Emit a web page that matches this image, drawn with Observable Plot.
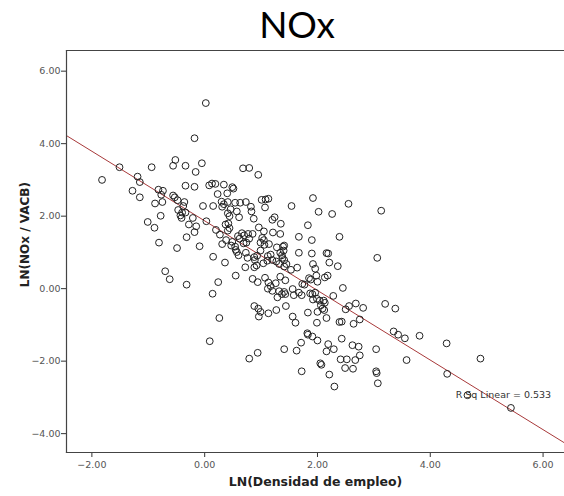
<!DOCTYPE html>
<html><head><meta charset="utf-8">
<script src="https://cdn.jsdelivr.net/npm/d3@7"></script>
<script src="https://cdn.jsdelivr.net/npm/@observablehq/plot@0.6"></script>
<style>
body{margin:0;background:#fff;}
#wrap{position:relative;width:564px;height:496px;overflow:hidden;}
#title{position:absolute;top:0px;left:197px;width:200px;text-align:center;font-family:Lato,"Open Sans",sans-serif;font-size:37px;line-height:48px;color:#000;}
#wrap svg{position:absolute;left:0;top:0;}
</style></head><body>
<div id="wrap"><div id="title"></div></div>
<script>
const chartTitle = "NOx";
const xLabel = "LN(Densidad de empleo)";
const yLabel = "LN(NOx / VACB)";
const xTicks = [-2, 0, 2, 4, 6];
const yTicks = [-4, -2, 0, 2, 4, 6];
const xDomain = [-2.45, 6.38];
const yDomain = [-4.52, 6.57];
const fitIntercept = 1.87;
const fitSlope = -0.96;
const rsqLabel = "R Sq Linear = 0.533";
const rsqAt = {x: 4.45, y: -2.92};
const yLabelAt = 1.49;

const xVals = [
  0.02,-0.18,-0.94,-0.52,-0.56,-0.34,-0.05,-0.16,0.68,0.79,
  0.95,-0.34,-0.18,0.08,0.13,0.19,0.34,0.49,0.51,0.23,
  0.40,-0.82,-0.74,-0.77,-0.56,-0.53,-0.88,-0.75,-0.48,-0.36,
  -0.38,-0.47,-0.40,-0.43,-0.41,-0.34,-0.21,-0.03,0.15,0.30,
  0.34,0.31,0.41,0.54,0.63,0.73,0.46,0.41,0.44,0.57,
  0.61,-0.78,-1.01,-0.89,-0.28,-0.15,-0.18,0.03,0.20,0.27,
  0.37,0.42,0.44,0.41,0.59,0.62,0.38,0.49,0.47,0.54,
  -0.81,-0.32,-0.49,-0.09,0.31,0.79,0.82,0.83,0.87,1.01,
  1.08,1.13,1.07,1.54,1.92,2.02,2.26,2.55,3.13,1.24,
  1.20,1.35,1.21,1.34,0.96,1.05,1.02,0.99,1.06,1.14,
  1.83,1.67,1.90,2.39,0.70,0.85,1.28,1.39,1.41,-1.82,
  -1.51,-1.19,-1.15,-1.28,-1.15,0.66,0.77,1.05,1.40,0.69,
  0.73,1.67,1.90,2.16,2.19,0.76,0.89,0.88,1.92,1.96,
  1.98,2.00,2.21,2.36,1.53,1.64,1.41,0.85,1.07,1.34,
  1.43,1.85,1.88,2.13,2.18,0.72,0.55,0.57,0.60,0.74,
  0.99,1.34,1.37,0.88,0.93,0.92,1.04,1.11,1.17,1.12,
  1.20,1.27,1.32,1.38,1.41,1.45,0.94,1.13,1.17,1.26,
  1.12,1.20,1.32,1.37,1.29,1.41,1.43,1.56,1.58,1.67,
  1.44,1.27,0.88,0.95,0.99,0.96,1.13,1.56,1.61,1.73,
  1.77,1.72,1.87,1.91,1.96,1.92,1.99,2.04,2.11,2.13,
  2.06,2.09,2.28,2.45,1.83,2.00,2.12,2.16,1.99,2.50,
  2.56,2.68,2.81,3.20,3.38,2.75,2.64,2.39,2.43,1.82,
  1.83,1.91,2.00,2.43,1.71,1.63,2.19,2.29,2.16,2.62,
  2.73,3.04,2.75,2.41,2.52,2.67,2.05,2.07,2.49,2.63,
  1.72,2.21,3.04,3.05,3.07,2.30,3.35,3.43,3.55,3.58,
  3.81,4.29,4.30,4.89,4.66,5.43,3.06,1.41,0.94,0.79,
  0.15,0.36,0.55,-0.70,-0.62,-0.32,0.24,0.14,0.26,0.09
];
const yVals = [
  5.12,4.15,3.35,3.55,3.39,3.39,3.46,3.22,3.32,3.33,
  3.14,2.84,2.81,2.85,2.90,2.89,2.87,2.80,2.76,2.61,
  2.63,2.73,2.70,2.59,2.57,2.52,2.35,2.39,2.44,2.39,
  2.28,2.17,2.10,2.02,1.95,2.10,1.95,2.28,2.28,2.40,
  2.33,2.26,2.39,2.37,2.37,2.39,2.19,2.08,2.00,2.13,
  1.97,2.01,1.84,1.68,1.77,1.72,1.56,1.86,1.62,1.49,
  1.77,1.80,1.67,1.60,1.45,1.38,1.34,1.29,1.19,1.16,
  1.27,1.42,1.12,1.17,1.23,1.38,2.26,2.13,1.93,2.45,
  2.46,2.48,2.24,2.28,2.50,2.12,2.06,2.34,2.15,1.97,
  1.90,1.79,1.55,1.51,1.69,1.58,1.40,1.27,1.21,1.23,
  1.75,1.43,1.34,1.43,1.47,1.51,1.14,1.16,1.19,3.00,
  3.35,3.09,2.94,2.70,2.52,1.53,1.51,1.34,1.05,1.25,
  0.99,0.99,0.97,0.98,0.97,0.85,0.79,0.59,0.68,0.55,
  0.36,0.19,0.72,0.62,0.52,0.58,0.61,0.27,0.30,0.33,
  0.23,0.29,0.25,0.31,0.36,0.59,1.07,1.01,0.92,1.27,
  1.05,0.99,0.92,0.87,0.91,0.64,0.70,0.77,0.94,0.90,
  0.79,0.75,0.68,0.85,0.79,0.68,0.18,0.17,0.07,0.15,
  0.00,-0.06,-0.07,-0.15,-0.24,-0.09,-0.15,-0.01,-0.18,-0.11,
  -0.48,-0.59,-0.48,-0.55,-0.64,-0.77,-0.68,-0.77,-0.94,0.13,
  0.11,-0.18,-0.13,-0.15,-0.11,-0.30,-0.28,-0.33,-0.33,-0.39,
  -0.46,-0.55,-0.20,0.02,-0.66,-0.64,-0.59,-0.81,-0.94,-0.57,
  -0.48,-0.41,-0.53,-0.42,-0.55,-0.85,-0.97,-0.92,-0.91,-1.23,
  -1.27,-1.32,-1.43,-1.38,-1.49,-1.71,-1.53,-1.67,-1.73,-1.56,
  -1.60,-1.67,-1.84,-1.95,-1.95,-1.97,-2.06,-2.10,-2.19,-2.21,
  -2.28,-2.37,-2.28,-2.33,-2.61,-2.70,-1.18,-1.27,-1.37,-1.97,
  -1.30,-1.51,-2.35,-1.93,-2.94,-3.29,0.85,-1.67,-1.77,-1.93,
  0.88,0.72,0.36,0.48,0.26,0.11,0.18,-0.14,-0.81,-1.45
];

document.getElementById("title").textContent = chartTitle;

const n = Math.min(xVals.length, yVals.length);
const points = d3.range(n).map(i => ({x: xVals[i], y: yVals[i]}));
const fitLine = xDomain.map(x => ({x, y: fitIntercept + fitSlope * x}));
const fmt = d3.format(".2f");

const chart = Plot.plot({
  width: 564, height: 496,
  marginLeft: 66, marginRight: 0, marginTop: 50, marginBottom: 44,
  style: {fontFamily: "'DejaVu Sans', Verdana, sans-serif", fontSize: "9.5px", background: "transparent", color: "#444", overflow: "visible"},
  x: {domain: xDomain},
  y: {domain: yDomain},
  marks: [
    Plot.axisX({ticks: xTicks, tickFormat: fmt, tickSize: 5, tickPadding: 4, label: null, stroke: "#333", fill: "#555"}),
    Plot.axisY({ticks: yTicks, tickFormat: fmt, tickSize: 5, tickPadding: 1, label: null, stroke: "#333", fill: "#555"}),
    Plot.line(fitLine, {x: "x", y: "y", stroke: "#a8393a", strokeWidth: 1, clip: true}),
    Plot.dot(points, {x: "x", y: "y", r: 3.4, stroke: "#222", strokeWidth: 1, fill: "none"}),
    Plot.text([{label: rsqLabel, ...rsqAt}], {x: "x", y: "y", text: "label", textAnchor: "start", fill: "#333", fontSize: 9.5}),
    Plot.frame({anchor: "left", stroke: "#444", strokeWidth: 1.2}),
    Plot.frame({anchor: "top", stroke: "#444", strokeWidth: 1.2}),
    Plot.frame({anchor: "bottom", stroke: "#444", strokeWidth: 1.2}),
    Plot.text([xLabel], {frameAnchor: "bottom", dy: 33, textAnchor: "middle", fontWeight: "bold", fontSize: 12.5, fill: "#222"}),
    Plot.text([{label: yLabel, y: yLabelAt}], {y: "y", text: "label", frameAnchor: "left", textAnchor: "middle", dx: -41, rotate: -90, fontWeight: "bold", fontSize: 12, fill: "#222"})
  ]
});
document.getElementById("wrap").prepend(chart);
</script>
</body></html>
